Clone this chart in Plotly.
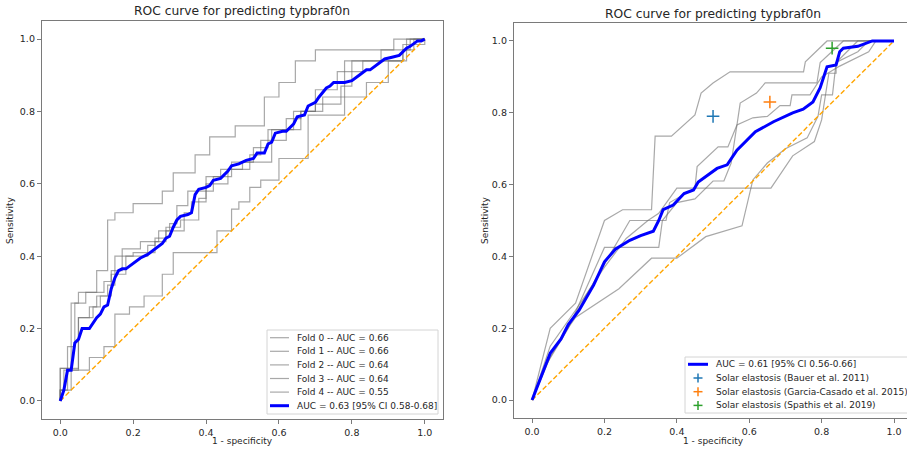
import plotly.graph_objects as go

# ---------------- Left panel data (cross-validation folds) ----------------
fold_names = ["Fold 0 -- AUC = 0.66", "Fold 1 -- AUC = 0.66", "Fold 2 -- AUC = 0.64",
              "Fold 3 -- AUC = 0.64", "Fold 4 -- AUC = 0.55"]
fold0_fpr = [0, 0.03, 0.05, 0.10, 0.13, 0.15, 0.20, 0.28, 0.31, 0.37, 0.41, 0.48, 0.56, 0.60, 0.645, 0.70, 0.915, 1.0]
fold0_tpr = [0, 0.09, 0.27, 0.30, 0.36, 0.50, 0.52, 0.545, 0.58, 0.63, 0.68, 0.73, 0.76, 0.84, 0.88, 0.94, 0.97, 1.0]
fold1_fpr = [0, 0.02, 0.04, 0.07, 0.12, 0.14, 0.17, 0.22, 0.27, 0.30, 0.32, 0.35, 0.42, 0.47, 0.53, 0.57, 0.66, 0.70, 0.76, 0.83, 0.94, 1.0, 1.0]
fold1_tpr = [0, 0.03, 0.15, 0.27, 0.30, 0.33, 0.36, 0.42, 0.44, 0.47, 0.49, 0.54, 0.58, 0.62, 0.66, 0.70, 0.75, 0.80, 0.86, 0.91, 0.94, 0.985, 1.0]
fold2_fpr = [0, 0.05, 0.08, 0.10, 0.13, 0.15, 0.20, 0.26, 0.29, 0.33, 0.38, 0.40, 0.44, 0.50, 0.58, 0.64, 0.70, 0.77, 0.80, 0.94, 0.96, 1.0]
fold2_tpr = [0, 0.09, 0.23, 0.26, 0.29, 0.32, 0.40, 0.41, 0.44, 0.48, 0.50, 0.56, 0.62, 0.64, 0.66, 0.75, 0.80, 0.82, 0.87, 0.94, 0.97, 1.0]
fold3_fpr = [0, 0.01, 0.05, 0.09, 0.11, 0.14, 0.18, 0.24, 0.26, 0.29, 0.34, 0.36, 0.40, 0.46, 0.52, 0.55, 0.62, 0.66, 0.72, 0.78, 0.88, 0.97, 1.0]
fold3_tpr = [0, 0.03, 0.085, 0.23, 0.26, 0.29, 0.35, 0.40, 0.43, 0.45, 0.47, 0.52, 0.55, 0.60, 0.64, 0.68, 0.72, 0.78, 0.80, 0.84, 0.94, 0.97, 1.0]
fold4_fpr = [0, 0.03, 0.08, 0.12, 0.15, 0.19, 0.23, 0.28, 0.31, 0.43, 0.47, 0.49, 0.52, 0.55, 0.60, 0.68, 0.78, 0.84, 0.90, 0.95, 1.0]
fold4_tpr = [0, 0.03, 0.085, 0.12, 0.15, 0.24, 0.26, 0.29, 0.35, 0.41, 0.47, 0.53, 0.55, 0.59, 0.61, 0.67, 0.79, 0.84, 0.88, 0.94, 1.0]

mean_left_name = "AUC = 0.63 [95% CI 0.58-0.68]"
mean_left_fpr = [0, 0.01, 0.02, 0.03, 0.04, 0.05, 0.06, 0.08, 0.10, 0.11, 0.12, 0.13, 0.14, 0.15, 0.16, 0.17, 0.18, 0.20,
                 0.22, 0.24, 0.26, 0.28, 0.29, 0.30, 0.31, 0.32, 0.33, 0.35, 0.36, 0.37, 0.38, 0.40, 0.41, 0.42, 0.44,
                 0.46, 0.47, 0.49, 0.51, 0.53, 0.54, 0.56, 0.57, 0.58, 0.59, 0.61, 0.62, 0.64, 0.65, 0.67, 0.68, 0.70,
                 0.71, 0.73, 0.74, 0.75, 0.78, 0.80, 0.82, 0.84, 0.85, 0.87, 0.89, 0.91, 0.93, 0.95, 0.96, 0.98, 0.99, 1.0]
mean_left_tpr = [0, 0.03, 0.085, 0.085, 0.16, 0.17, 0.20, 0.20, 0.23, 0.24, 0.26, 0.265, 0.31, 0.34, 0.36, 0.365, 0.365, 0.38,
                 0.395, 0.405, 0.42, 0.435, 0.45, 0.455, 0.48, 0.50, 0.51, 0.515, 0.52, 0.57, 0.585, 0.59, 0.595, 0.61, 0.615,
                 0.635, 0.65, 0.655, 0.665, 0.67, 0.685, 0.685, 0.71, 0.715, 0.74, 0.745, 0.745, 0.765, 0.785, 0.79, 0.815, 0.825,
                 0.84, 0.865, 0.87, 0.88, 0.88, 0.885, 0.90, 0.915, 0.915, 0.93, 0.945, 0.95, 0.955, 0.975, 0.98, 0.995, 0.995, 1.0]

# ---------------- Right panel data ----------------
r1_fpr = [0, 0.05, 0.12, 0.2, 0.25, 0.33, 0.34, 0.385, 0.45, 0.467, 0.5, 0.547, 0.75, 0.755, 0.815, 1.0]
r1_tpr = [0, 0.2, 0.27, 0.5, 0.53, 0.53, 0.735, 0.735, 0.794, 0.855, 0.883, 0.914, 0.914, 0.942, 1.0, 1.0]
r2_fpr = [0, 0.05, 0.12, 0.2, 0.27, 0.37, 0.38, 0.45, 0.456, 0.514, 0.541, 0.566, 0.575, 0.62, 0.644, 0.787, 0.796, 0.86, 1.0]
r2_tpr = [0, 0.12, 0.24, 0.38, 0.5, 0.5, 0.55, 0.59, 0.65, 0.705, 0.705, 0.766, 0.827, 0.855, 0.883, 0.883, 0.94, 1.0, 1.0]
r3_fpr = [0, 0.04, 0.1, 0.2, 0.35, 0.36, 0.4, 0.45, 0.5, 0.53, 0.55, 0.566, 0.61, 0.65, 0.685, 0.713, 0.718, 0.768, 0.8, 0.85, 0.93, 0.95, 1.0]
r3_tpr = [0, 0.1, 0.2, 0.425, 0.425, 0.5, 0.55, 0.56, 0.61, 0.61, 0.66, 0.766, 0.786, 0.79, 0.82, 0.82, 0.85, 0.85, 0.9, 0.93, 0.97, 1.0, 1.0]
r4_fpr = [0, 0.05, 0.12, 0.24, 0.33, 0.4, 0.48, 0.58, 0.61, 0.65, 0.7, 0.76, 0.79, 0.8, 0.83, 0.84, 0.9, 0.93, 1.0]
r4_tpr = [0, 0.13, 0.23, 0.31, 0.395, 0.395, 0.455, 0.485, 0.613, 0.66, 0.7, 0.73, 0.79, 0.85, 0.85, 0.94, 0.97, 1.0, 1.0]
r5_fpr = [0, 0.05, 0.12, 0.2, 0.26, 0.32, 0.35, 0.4, 0.66, 0.72, 0.78, 0.8, 0.82, 0.84, 0.84, 0.9, 1.0]
r5_tpr = [0, 0.15, 0.25, 0.37, 0.45, 0.5, 0.52, 0.59, 0.59, 0.68, 0.72, 0.78, 0.91, 0.91, 0.94, 1.0, 1.0]

mean_right_name = "AUC = 0.61 [95% CI 0.56-0.66]"
mean_right_fpr = [0, 0.05, 0.08, 0.1, 0.13, 0.17, 0.2, 0.23, 0.27, 0.3, 0.335, 0.35, 0.362, 0.39, 0.42, 0.446, 0.459, 0.49,
                  0.511, 0.539, 0.566, 0.617, 0.667, 0.72, 0.749, 0.776, 0.796, 0.815, 0.84, 0.85, 0.86, 0.9, 0.94, 1.0]
mean_right_tpr = [0, 0.13, 0.17, 0.21, 0.25, 0.32, 0.385, 0.42, 0.445, 0.458, 0.47, 0.5, 0.53, 0.543, 0.575, 0.585, 0.607, 0.63,
                  0.645, 0.655, 0.696, 0.747, 0.775, 0.8, 0.81, 0.83, 0.87, 0.928, 0.933, 0.97, 0.98, 0.985, 1.0, 1.0]

ref_names = ["Solar elastosis (Bauer et al. 2011)", "Solar elastosis (Garcia-Casado et al. 2015)",
             "Solar elastosis (Spathis et al. 2019)"]
ref_fpr = [0.50, 0.657, 0.829]
ref_tpr = [0.79, 0.83, 0.98]
ref_colors = ["#1f77b4", "#ff7f0e", "#2ca02c"]

diag = [0, 1]
ticks = [0, 0.2, 0.4, 0.6, 0.8, 1.0]
tick_text = ["0.0", "0.2", "0.4", "0.6", "0.8", "1.0"]
title_text = "ROC curve for predicting typbraf0n"
x_label = "1 - specificity"
y_label = "Sensitivity"

FONT = "DejaVu Sans"
TXT = "#262626"
GRAY = "rgba(110,110,110,0.6)"
FRAME = "#7a7a7a"
W, H = 907, 449


def px(x):
    return x / W


def py(y):
    return 1 - y / H


fig = go.Figure()

# Left panel
left_folds = [(fold0_fpr, fold0_tpr), (fold1_fpr, fold1_tpr), (fold2_fpr, fold2_tpr),
              (fold3_fpr, fold3_tpr), (fold4_fpr, fold4_tpr)]
for name, (fx, fy) in zip(fold_names, left_folds):
    fig.add_trace(go.Scatter(x=fx, y=fy, mode="lines", line=dict(color=GRAY, width=1.2, shape="vh"),
                             name=name, xaxis="x", yaxis="y"))
fig.add_trace(go.Scatter(x=diag, y=diag, mode="lines", line=dict(color="orange", width=1.4, dash="5px,2.5px"),
                         name="chance", xaxis="x", yaxis="y"))
fig.add_trace(go.Scatter(x=mean_left_fpr, y=mean_left_tpr, mode="lines", line=dict(color="blue", width=3),
                         name=mean_left_name, xaxis="x", yaxis="y"))

# Right panel
right_curves = [(r1_fpr, r1_tpr), (r2_fpr, r2_tpr), (r3_fpr, r3_tpr), (r4_fpr, r4_tpr), (r5_fpr, r5_tpr)]
for fx, fy in right_curves:
    fig.add_trace(go.Scatter(x=fx, y=fy, mode="lines", line=dict(color=GRAY, width=1.2),
                             xaxis="x2", yaxis="y2"))
fig.add_trace(go.Scatter(x=diag, y=diag, mode="lines", line=dict(color="orange", width=1.4, dash="5px,2.5px"),
                         xaxis="x2", yaxis="y2"))
fig.add_trace(go.Scatter(x=mean_right_fpr, y=mean_right_tpr, mode="lines", line=dict(color="blue", width=3),
                         name=mean_right_name, xaxis="x2", yaxis="y2"))
for name, fx, fy, c in zip(ref_names, ref_fpr, ref_tpr, ref_colors):
    fig.add_trace(go.Scatter(x=[fx], y=[fy], mode="markers",
                             marker=dict(symbol="cross-thin", size=9, line=dict(color=c, width=1.5)),
                             name=name, xaxis="x2", yaxis="y2"))

# ---------------- Legends (matplotlib-style compact boxes) ----------------
shapes = []
annotations = []

# left legend box
shapes.append(dict(type="rect", xref="paper", yref="paper", x0=px(267), x1=px(438), y0=py(414), y1=py(330),
                   line=dict(color="#d4d4d4", width=1), fillcolor="rgba(255,255,255,0.85)", layer="above"))
left_rows = [337.7 + 13.6 * i for i in range(6)]
left_entries = fold_names + [mean_left_name]
for i, (row, label) in enumerate(zip(left_rows, left_entries)):
    is_mean = i == len(left_entries) - 1
    shapes.append(dict(type="line", xref="paper", yref="paper", x0=px(270), x1=px(289), y0=py(row), y1=py(row),
                       line=dict(color="blue" if is_mean else GRAY, width=3 if is_mean else 1.2), layer="above"))
    annotations.append(dict(text=label, x=px(295), y=py(row), xref="paper", yref="paper", showarrow=False,
                            xanchor="left", yanchor="middle", font=dict(family=FONT, size=9, color=TXT)))

# right legend box
shapes.append(dict(type="rect", xref="paper", yref="paper", x0=px(685), x1=px(920), y0=py(413), y1=py(357),
                   line=dict(color="#d4d4d4", width=1), fillcolor="rgba(255,255,255,0.85)", layer="above"))
right_rows = [364.3, 378.0, 391.7, 405.4]
shapes.append(dict(type="line", xref="paper", yref="paper", x0=px(688), x1=px(708), y0=py(right_rows[0]),
                   y1=py(right_rows[0]), line=dict(color="blue", width=3), layer="above"))
annotations.append(dict(text=mean_right_name, x=px(714), y=py(right_rows[0]), xref="paper", yref="paper",
                        showarrow=False, xanchor="left", yanchor="middle", font=dict(family=FONT, size=9, color=TXT)))
for row, label, c in zip(right_rows[1:], ref_names, ref_colors):
    shapes.append(dict(type="line", xref="paper", yref="paper", x0=px(693.5), x1=px(702.5), y0=py(row), y1=py(row),
                       line=dict(color=c, width=1.5), layer="above"))
    shapes.append(dict(type="line", xref="paper", yref="paper", x0=px(698), x1=px(698), y0=py(row - 4.5),
                       y1=py(row + 4.5), line=dict(color=c, width=1.5), layer="above"))
    annotations.append(dict(text=label, x=px(714), y=py(row), xref="paper", yref="paper", showarrow=False,
                            xanchor="left", yanchor="middle", font=dict(family=FONT, size=9, color=TXT)))

# titles and axis labels
for cx, ty in [(242, 11), (713, 14)]:
    annotations.append(dict(text=title_text, x=px(cx), y=py(ty), xref="paper", yref="paper", showarrow=False,
                            xanchor="center", yanchor="middle", font=dict(family=FONT, size=12.3, color=TXT)))
    annotations.append(dict(text=x_label, x=px(cx), y=py(441), xref="paper", yref="paper", showarrow=False,
                            xanchor="center", yanchor="middle", font=dict(family=FONT, size=9, color=TXT)))
for lx in [10, 485]:
    annotations.append(dict(text=y_label, x=px(lx), y=py(220), xref="paper", yref="paper", showarrow=False,
                            textangle=-90, xanchor="center", yanchor="middle",
                            font=dict(family=FONT, size=9, color=TXT)))

axis_common = dict(showgrid=False, zeroline=False, showline=True, linecolor=FRAME, linewidth=1.3,
                   ticks="outside", ticklen=4, tickcolor=FRAME, tickwidth=1,
                   tickvals=ticks, ticktext=tick_text, tickfont=dict(family=FONT, size=9.5, color=TXT))

fig.update_layout(
    width=W, height=H, margin=dict(l=0, r=0, t=0, b=0, autoexpand=False),
    plot_bgcolor="white", paper_bgcolor="white", showlegend=False,
    font=dict(family=FONT, color=TXT),
    xaxis=dict(domain=[px(42), px(443)], range=[-0.05, 1.05], mirror=True, anchor="y", **axis_common),
    yaxis=dict(domain=[py(419), py(21)], range=[-0.05, 1.05], mirror=True, anchor="x", **axis_common),
    xaxis2=dict(domain=[px(514), 1.0], range=[-0.05, (W - 532) / 362], mirror=True, anchor="y2", **axis_common),
    yaxis2=dict(domain=[py(418), py(23)], range=[-0.05, 1.05], mirror=False, anchor="x2", **axis_common),
    shapes=shapes,
    annotations=annotations,
)

fig.write_html("out.html")
